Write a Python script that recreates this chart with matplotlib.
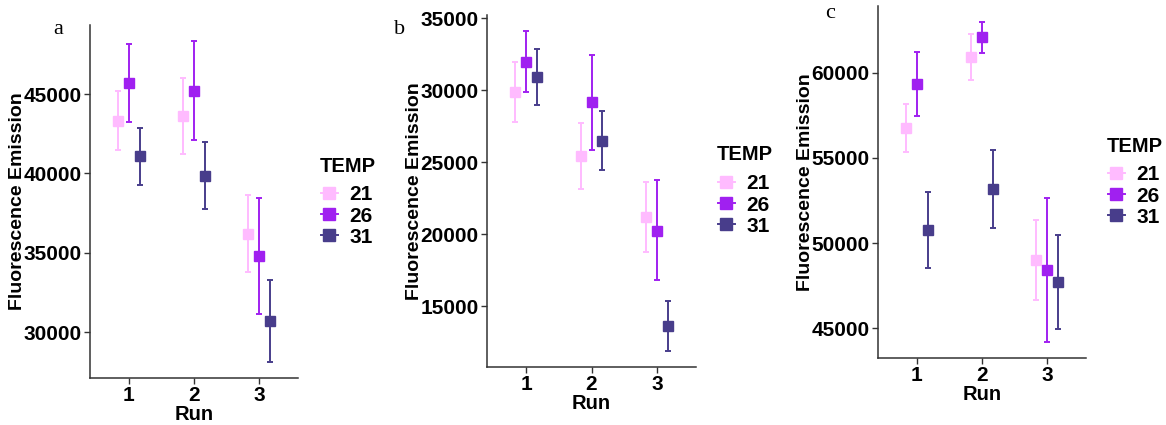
import matplotlib.pyplot as plt
from matplotlib.lines import Line2D
import numpy as np

# TEMP groups and colours
temps = ["21", "26", "31"]
colors = ["#FFBBFF", "#A020F0", "#483D8B"]
runs = [1, 2, 3]

# panel a: mean, upper, lower per TEMP (rows) and Run (cols)
a_mean = [[43320, 43640, 36190], [45690, 45210, 34800], [41080, 39860, 30690]]
a_up = [[45190, 45990, 38660], [48130, 48340, 38480], [42880, 41980, 33290]]
a_lo = [[41480, 41250, 33820], [43260, 42130, 31130], [39290, 37740, 28130]]

# panel b
b_mean = [[29860, 25430, 21200], [31980, 29140, 20240], [30890, 26460, 13590]]
b_up = [[31960, 27730, 23630], [34100, 32420, 23770], [32860, 28540, 15320]]
b_lo = [[27780, 23100, 18760], [29860, 25860, 16780], [28930, 24430, 11880]]

# panel c
c_mean = [[56770, 60920, 49030], [59320, 62080, 48430], [50750, 53200, 47730]]
c_up = [[58150, 62280, 51370], [61230, 62980, 52660], [52990, 55480, 50490]]
c_lo = [[55340, 59570, 46660], [57450, 61190, 44200], [48550, 50900, 44940]]

a_ticks = [30000, 35000, 40000, 45000]
b_ticks = [15000, 20000, 25000, 30000, 35000]
c_ticks = [45000, 50000, 55000, 60000]

W, H = 1166, 425
fig = plt.figure(figsize=(W / 100, H / 100), dpi=100)
plt.rcParams['font.family'] = ['Liberation Sans', 'DejaVu Sans']


def px_axes(l, t, r, b):
    return fig.add_axes([l / W, 1 - b / H, (r - l) / W, (b - t) / H])


def panel(ax, mean, up, lo, ticks):
    offs = [-1 / 6, 0, 1 / 6]
    for i in range(3):
        m = np.array(mean[i])
        yerr = [m - np.array(lo[i]), np.array(up[i]) - m]
        ax.errorbar(np.array(runs) + offs[i], m, yerr=yerr, fmt='s', color=colors[i],
                    ms=6.5, elinewidth=1.4, capsize=2.0, capthick=1.4)
    allv = np.concatenate([np.ravel(up), np.ravel(lo)])
    lo_v, hi_v = allv.min(), allv.max()
    pad = (hi_v - lo_v) * 0.05
    ax.set_ylim(lo_v - pad, hi_v + pad)
    ax.set_xlim(0.4, 3.6)
    ax.set_xticks(runs)
    ax.set_yticks(ticks)
    for s in ['top', 'right']:
        ax.spines[s].set_visible(False)
    for s in ['left', 'bottom']:
        ax.spines[s].set_color('#333333')
        ax.spines[s].set_linewidth(1.1)
    ax.tick_params(length=4, width=1, color='#333333', labelsize=15, pad=2)
    for lab in ax.get_xticklabels() + ax.get_yticklabels():
        lab.set_fontweight('bold')
    ax.set_xlabel("Run", fontsize=14.5, fontweight='bold', labelpad=0)
    ax.set_ylabel("Fluorescence Emission", fontsize=14, fontweight='bold', labelpad=-2)


def legend(x, ytitle, ymid):
    fig.text(x / W, 1 - ytitle / H, "TEMP", fontsize=14.5, fontweight='bold',
             ha='left', va='center')
    handles = [Line2D([0], [0], color=c, marker='s', ms=8, lw=1.4) for c in colors]
    fig.legend(handles, temps, loc='center left', bbox_to_anchor=((x + 1) / W, 1 - ymid / H),
               frameon=False, handlelength=0.8, handletextpad=0.55,
               labelspacing=0.1, borderpad=0, borderaxespad=0,
               prop={'size': 15, 'weight': 'bold'})


ax1 = px_axes(90, 25, 298, 378)
panel(ax1, a_mean, a_up, a_lo, a_ticks)
ax2 = px_axes(487, 15, 696, 367)
panel(ax2, b_mean, b_up, b_lo, b_ticks)
ax3 = px_axes(878, 6, 1086, 358)
panel(ax3, c_mean, c_up, c_lo, c_ticks)

legend(320, 167, 216)
legend(717, 155, 205)
legend(1107, 146, 196)

for txt, x, y in [("a", 58, 30), ("b", 400, 30), ("c", 830, 14)]:
    fig.text(x / W, 1 - y / H, txt, family='Liberation Serif', fontsize=16,
             ha='center', va='center')

fig.savefig("out.png", dpi=100)
